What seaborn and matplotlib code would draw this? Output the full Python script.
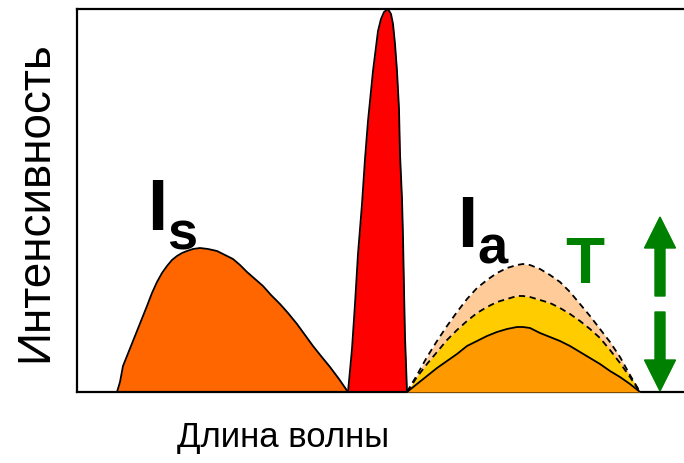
import numpy as np
import pandas as pd
import matplotlib
matplotlib.use("Agg")
import matplotlib.pyplot as plt
import seaborn as sns

# curves (x: wavelength, arbitrary units; y: intensity)
stokes_x = [40, 43, 46, 52, 58, 64, 70, 75, 80, 85, 90, 95, 100, 105, 110, 116, 123, 131,
            140, 148, 156, 163, 170, 178, 186, 194, 203, 211, 220, 228, 236, 244, 253, 262, 271]
stokes_y = [0, 10, 26, 41, 56, 71, 86, 99, 110, 119, 126, 132, 136, 139, 141, 143, 144, 143,
            141, 137, 133, 127, 120, 113, 106, 97, 88, 79, 68, 57, 46, 36, 25, 13, 0]

laser_x = [271, 275, 278, 281, 285, 288, 291, 294, 296, 299, 301, 304, 307, 311, 314, 316,
           318, 320, 322, 323, 325, 326, 327, 328, 329, 330]
laser_y = [0, 43, 88, 138, 188, 233, 271, 301, 321, 345, 361, 373, 380, 383, 378, 368,
           348, 321, 283, 238, 193, 155, 103, 55, 28, 0]

anti_x = [330, 340, 350, 360, 370, 380, 390, 400, 410, 420, 430, 440, 446, 453, 463, 473,
          483, 493, 503, 513, 523, 533, 543, 553, 563]
anti_lo = [0, 8, 16, 24, 31, 38, 46, 51, 56, 60, 63, 65, 65, 64, 59, 55,
           51, 46, 40, 34, 28, 21, 15, 8, 0]
anti_mid = [0, 15, 28, 40, 52, 62, 71, 79, 85, 90, 93, 96, 96, 95, 92, 89,
            84, 78, 71, 63, 54, 42, 29, 15, 0]
anti_hi = [0, 17, 35, 51, 66, 80, 93, 104, 112, 119, 124, 127, 128, 127, 123, 117,
           110, 100, 88, 76, 63, 50, 35, 17, 0]

stokes = pd.DataFrame({"x": stokes_x, "y": stokes_y})
laser = pd.DataFrame({"x": laser_x, "y": laser_y})
anti = pd.DataFrame({"x": anti_x, "lo": anti_lo, "mid": anti_mid, "hi": anti_hi})

sns.set_style("white")
plt.rcParams["font.family"] = ["Liberation Sans", "DejaVu Sans"]
plt.rcParams["text.color"] = "black"
plt.rcParams["axes.labelcolor"] = "black"

fig = plt.figure(figsize=(6.84, 4.64), dpi=100)
ax = fig.add_axes([77 / 684, 71 / 464, 607 / 684, 383 / 464])

# fills
ax.fill_between(stokes["x"], stokes["y"], color="#FF6600", lw=0, zorder=1)
ax.fill_between(laser["x"], laser["y"], color="#FF0000", lw=0, zorder=1)
ax.fill_between(anti["x"], anti["hi"], color="#FFCC99", lw=0, zorder=1)
ax.fill_between(anti["x"], anti["mid"], color="#FFCC00", lw=0, zorder=2)
ax.fill_between(anti["x"], anti["lo"], color="#FF9900", lw=0, zorder=3)

# outlines
sns.lineplot(data=stokes, x="x", y="y", color="black", lw=1.3, sort=False, ax=ax, zorder=4)
sns.lineplot(data=laser, x="x", y="y", color="black", lw=1.3, sort=False, ax=ax, zorder=4)
sns.lineplot(data=anti, x="x", y="lo", color="black", lw=1.3, sort=False, ax=ax, zorder=4)
sns.lineplot(data=anti, x="x", y="mid", color="black", lw=1.3, sort=False, ax=ax,
             zorder=4, dashes=False, linestyle=(0, (3.5, 2.5)))
sns.lineplot(data=anti, x="x", y="hi", color="black", lw=1.3, sort=False, ax=ax,
             zorder=4, dashes=False, linestyle=(0, (3.5, 2.5)))

# labels on the peaks
ax.text(70, 163, "I", fontsize=52, fontweight="bold", va="baseline", ha="left")
ax.text(90, 144, "s", fontsize=39, fontweight="bold", va="baseline", ha="left")
ax.text(380, 146, "I", fontsize=52, fontweight="bold", va="baseline", ha="left")
ax.text(400, 129, "a", fontsize=39, fontweight="bold", va="baseline", ha="left")
ax.text(488, 110, "T", fontsize=46, fontweight="bold", va="baseline", ha="left", color="#008000")

green = "#008000"
ax.arrow(583, 96, 0, 79, width=10, head_width=31, head_length=31,
         length_includes_head=True, color=green, zorder=5)
ax.arrow(583, 80, 0, -79, width=10, head_width=31, head_length=31,
         length_includes_head=True, color=green, zorder=5)

ax.set_xlim(0, 607)
ax.set_ylim(0, 383)
ax.set_xticks([])
ax.set_yticks([])
ax.set_xlabel("Длина волны", fontsize=25)
ax.set_ylabel("Интенсивность", fontsize=33)
ax.xaxis.set_label_coords(0.339, -0.072)
ax.yaxis.set_label_coords(-0.032, 0.5)
for side in ["left", "bottom", "top"]:
    ax.spines[side].set_color("black")
    ax.spines[side].set_linewidth(1.6)
ax.spines["right"].set_visible(False)

fig.savefig("out.png", dpi=100)
